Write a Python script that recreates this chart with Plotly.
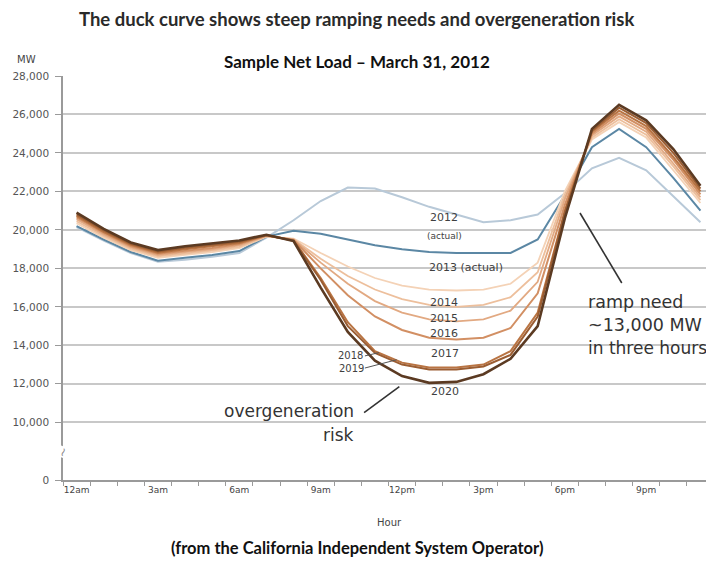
import plotly.graph_objects as go

hours = list(range(24))
x_tick_vals = [0, 3, 6, 9, 12, 15, 18, 21]
x_tick_text = ["12am", "3am", "6am", "9am", "12pm", "3pm", "6pm", "9pm"]
y_tick_vals = [7000, 10000, 12000, 14000, 16000, 18000, 20000, 22000, 24000, 26000, 28000]
y_tick_text = ["0", "10,000", "12,000", "14,000", "16,000", "18,000", "20,000", "22,000", "24,000", "26,000", "28,000"]

load_2012 = [20150, 19450, 18800, 18350, 18450, 18600, 18800, 19600, 20500, 21500, 22200, 22150,
             21700, 21200, 20800, 20400, 20500, 20800, 21900, 23200, 23750, 23100, 21750, 20400]
load_2013 = [20200, 19500, 18850, 18400, 18550, 18700, 18900, 19650, 19950, 19800, 19500, 19200,
             19000, 18850, 18800, 18800, 18800, 19500, 21800, 24300, 25250, 24300, 22700, 21000]
load_2014 = [20350, 19600, 18950, 18550, 18700, 18850, 19050, 19650, 19550, 18800, 18100, 17500,
             17100, 16900, 16850, 16900, 17200, 18300, 22000, 24700, 25600, 24800, 23100, 21400]
load_2015 = [20450, 19680, 19020, 18620, 18770, 18920, 19120, 19670, 19520, 18500, 17600, 16900,
             16400, 16100, 16000, 16100, 16500, 17800, 21800, 24800, 25750, 24950, 23300, 21550]
load_2016 = [20550, 19760, 19090, 18690, 18840, 18990, 19190, 19690, 19500, 18300, 17200, 16300,
             15700, 15350, 15250, 15350, 15800, 17300, 21600, 24900, 25900, 25100, 23450, 21700]
load_2017 = [20650, 19840, 19160, 18760, 18910, 19060, 19260, 19710, 19480, 18000, 16600, 15500,
             14800, 14400, 14300, 14400, 14900, 16700, 21300, 25000, 26050, 25250, 23650, 21850]
load_2018 = [20730, 19900, 19220, 18820, 18990, 19140, 19320, 19720, 19460, 17500, 15200, 13700,
             13100, 12850, 12850, 13000, 13700, 15700, 21000, 25100, 26200, 25400, 23800, 22000]
load_2019 = [20810, 19970, 19280, 18880, 19070, 19220, 19390, 19730, 19440, 17400, 15000, 13600,
             13000, 12750, 12750, 12900, 13500, 15500, 20900, 25150, 26350, 25550, 24000, 22150]
load_2020 = [20900, 20050, 19350, 18950, 19150, 19300, 19450, 19750, 19420, 17000, 14700, 13200,
             12400, 12050, 12100, 12500, 13300, 15000, 20600, 25250, 26500, 25700, 24200, 22300]

series = [
    ("2012", load_2012, "#b8c9d8", 2.0),
    ("2013", load_2013, "#5b87a4", 2.0),
    ("2014", load_2014, "#f4d2b6", 1.8),
    ("2015", load_2015, "#edbf9c", 1.8),
    ("2016", load_2016, "#e2a982", 1.8),
    ("2017", load_2017, "#d28f63", 2.0),
    ("2018", load_2018, "#b97443", 2.0),
    ("2019", load_2019, "#9b5d32", 2.0),
    ("2020", load_2020, "#5b3a22", 2.6),
]

fig = go.Figure()
for name, vals, color, w in series:
    fig.add_trace(go.Scatter(x=hours, y=vals, mode="lines", name=name,
                             line=dict(color=color, width=w), hoverinfo="skip"))

ann_font = "DejaVu Sans"
label_color = "#3f3f3f"
big_color = "#333333"
annotations = [
    dict(x=13.55, y=20620, text="2012", font=dict(size=11, color=label_color, family=ann_font)),
    dict(x=13.55, y=19680, text="(actual)", font=dict(size=9, color=label_color, family=ann_font)),
    dict(x=14.35, y=18070, text="2013 (actual)", font=dict(size=11, color=label_color, family=ann_font)),
    dict(x=13.55, y=16250, text="2014", font=dict(size=11, color=label_color, family=ann_font)),
    dict(x=13.55, y=15420, text="2015", font=dict(size=11, color=label_color, family=ann_font)),
    dict(x=13.55, y=14640, text="2016", font=dict(size=11, color=label_color, family=ann_font)),
    dict(x=13.6, y=13600, text="2017", font=dict(size=11, color=label_color, family=ann_font)),
    dict(x=13.6, y=11580, text="2020", font=dict(size=11, color=label_color, family=ann_font)),
    dict(x=10.1, y=13450, text="2018", font=dict(size=10, color=label_color, family=ann_font)),
    dict(x=10.15, y=12820, text="2019", font=dict(size=10, color=label_color, family=ann_font)),
    dict(x=10.27, y=10590, text="overgeneration", xanchor="right",
         font=dict(size=17, color=big_color, family=ann_font)),
    dict(x=10.27, y=9340, text="risk", xanchor="right",
         font=dict(size=17, color=big_color, family=ann_font)),
    dict(x=18.82, y=16250, text="ramp need", xanchor="left",
         font=dict(size=17.5, color=big_color, family=ann_font)),
    dict(x=18.82, y=15060, text="~13,000 MW", xanchor="left",
         font=dict(size=17.5, color=big_color, family=ann_font)),
    dict(x=18.82, y=13860, text="in three hours", xanchor="left",
         font=dict(size=17, color=big_color, family=ann_font)),
]
for a in annotations:
    a.update(xref="x", yref="y", showarrow=False, yanchor="middle", borderpad=0)

# page texts (paper coordinates relative to the plot area)
page_texts = [
    dict(x=0.4516, y=1.1412, text="<b>The duck curve shows steep ramping needs and overgeneration risk</b>",
         font=dict(size=18.5, color="#2a2a2a", family="Lato")),
    dict(x=0.4516, y=1.037, text="<b>Sample Net Load – March 31, 2012</b>",
         font=dict(size=17, color="#111111", family="Lato")),
    dict(x=-0.0553, y=1.04, text="MW",
         font=dict(size=10, color="#444444", family=ann_font)),
    dict(x=0.502, y=-0.104, text="Hour",
         font=dict(size=10, color="#444444", family=ann_font)),
    dict(x=0.4516, y=-0.168, text="<b>(from the California Independent System Operator)</b>",
         font=dict(size=16.5, color="#111111", family="Lato")),
]
for a in page_texts:
    a.update(xref="paper", yref="paper", showarrow=False, xanchor="center", yanchor="middle")
annotations += page_texts
annotations.append(dict(xref="paper", yref="y", x=0, y=8450, text="~", textangle=-70, bgcolor="white",
                        showarrow=False, xanchor="center", yanchor="middle", borderpad=0,
                        font=dict(size=12, color="#888888", family=ann_font)))

shapes = [
    dict(type="line", xref="x", yref="y", x0=10.6, y0=10500, x1=11.9, y1=11850,
         line=dict(color="#333333", width=1.6)),
    dict(type="line", xref="x", yref="y", x0=18.56, y0=20880, x1=20.1, y1=17240,
         line=dict(color="#333333", width=1.6)),
    dict(type="line", xref="x", yref="y", x0=10.63, y0=13450, x1=11.15, y1=13620,
         line=dict(color="#555555", width=1)),
    dict(type="line", xref="x", yref="y", x0=10.63, y0=12820, x1=11.8, y1=13250,
         line=dict(color="#555555", width=1)),
]

# page body has an 8px margin: figure is 706x554 placed at (8, 8)
fig.update_layout(
    width=706, height=554,
    margin=dict(l=55, r=0, t=68, b=82),
    paper_bgcolor="white", plot_bgcolor="white",
    showlegend=False,
    annotations=annotations,
    shapes=shapes,
    xaxis=dict(range=[-0.5, 23.5], tickmode="array", tickvals=x_tick_vals, ticktext=x_tick_text,
               showgrid=False, zeroline=False, showline=True, linecolor="#9a9a9a", linewidth=1.5,
               ticks="", tickfont=dict(size=9, color="#444444", family=ann_font),
               minor=dict(tickmode="linear", tick0=0.5, dtick=1, ticks="outside", ticklen=4,
                          tickcolor="#9a9a9a", showgrid=False)),
    yaxis=dict(range=[7000, 28000], tickmode="array", tickvals=y_tick_vals, ticktext=y_tick_text,
               showgrid=True, gridcolor="#c8c8c8", gridwidth=2, zeroline=False,
               showline=True, linecolor="#9a9a9a", linewidth=1.5,
               ticks="outside", ticklen=6, tickcolor="#9a9a9a", ticklabelstandoff=4,
               tickfont=dict(size=10.5, color="#555555", family=ann_font)),
)

fig.write_html("out.html")
